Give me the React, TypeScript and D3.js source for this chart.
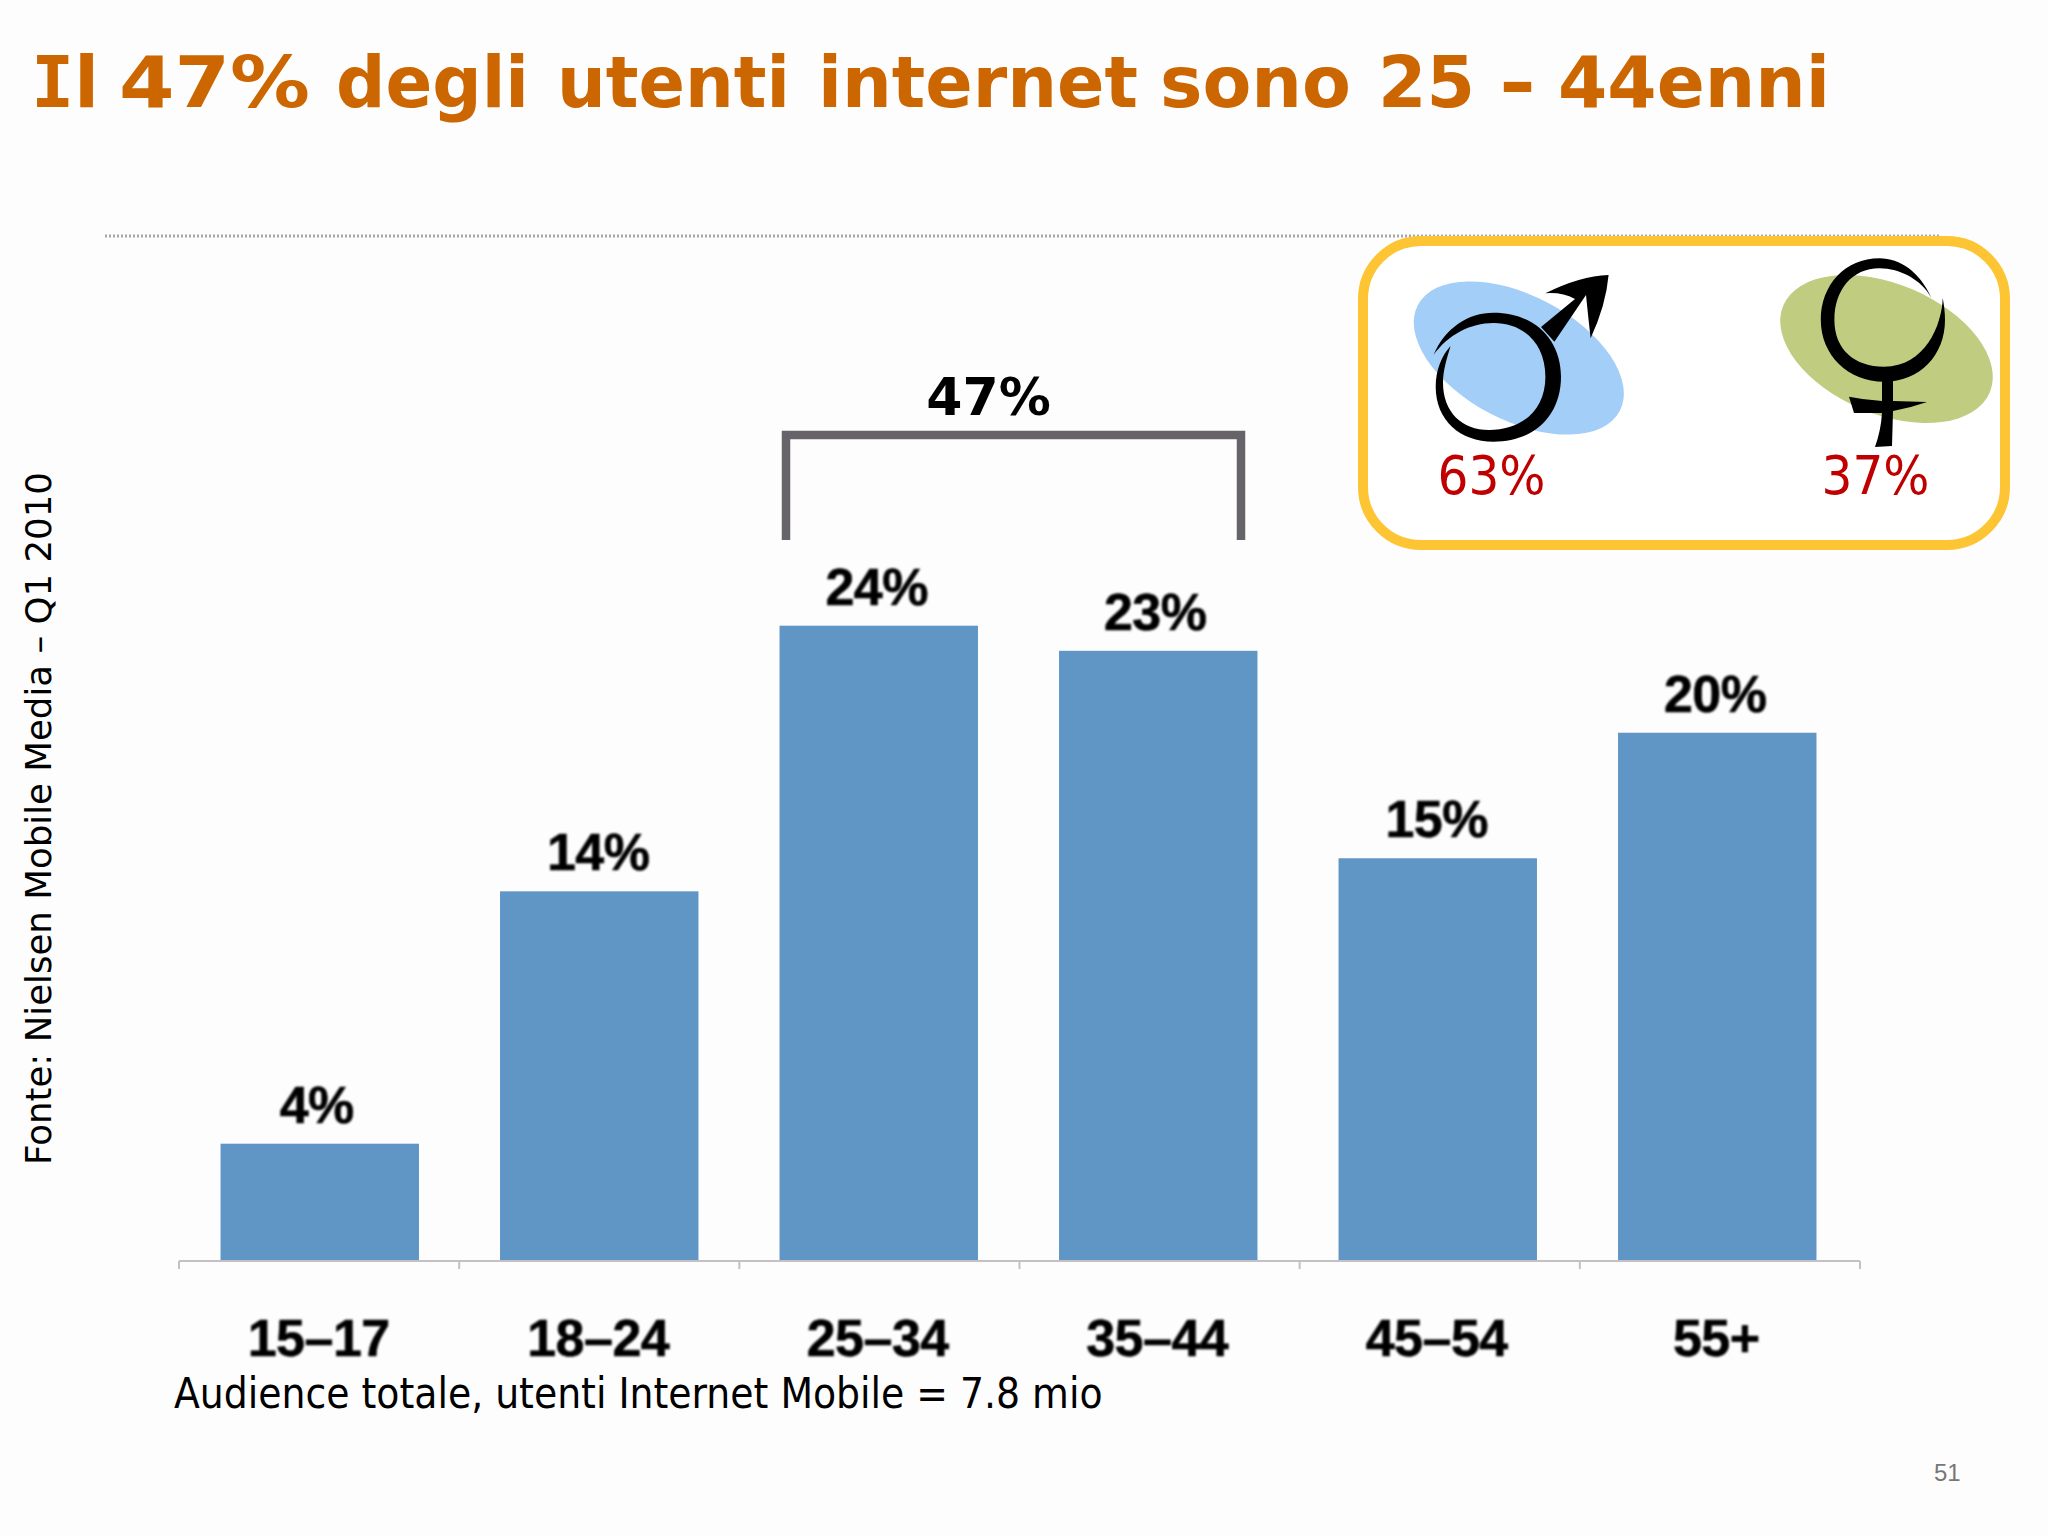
import React from "react";
import * as d3 from "d3";

const categories = ["15–17", "18–24", "25–34", "35–44", "45–54", "55+"];
const shares = [4.4, 13.95, 24, 23.05, 15.2, 19.95];
const shareLabels = ["4%", "14%", "24%", "23%", "15%", "20%"];
const labelNudge = [-3, -1, -2, -3, -1, -2];
const titleWords = ["47%", "degli", "utenti", "internet", "sono", "25", "-", "44enni"];
const titleX = [119, 336, 557, 818, 1160, 1378, 1499, 1558];
const titleLen = [191, 193, 233, 320, 191, 97, 37, 272];
const sourceText = "Fonte: Nielsen Mobile Media – Q1 2010";
const footText = "Audience totale, utenti Internet Mobile = 7.8 mio";
const bracketLabel = "47%";
const maleLabel = "63%";
const femaleLabel = "37%";

const W = 2048, H = 1536;
const axisX = d3.scaleBand<string>().domain(categories).range([179, 1860]);
const x = d3.scaleBand<string>().domain(categories).range([180, 1857]).paddingInner(0.29).paddingOuter(0.145);
const y = d3.scaleLinear().domain([0, 24]).range([1260, 625.7]);
const tickXs = [...categories.map(c => axisX(c) as number), 1860];

const arial = "'Liberation Sans', Arial, sans-serif";
const dejavu = "'DejaVu Sans', Verdana, sans-serif";
const cond = "'DejaVu Sans Condensed', 'DejaVu Sans', sans-serif";

const maleRing = "M1433.5,355 C1445,328 1468,312.7 1493.5,312.7 C1535,312.7 1561,340 1561,376.7 C1561,415 1535,441.7 1493.5,441.7 C1460,441.7 1435.7,420 1435.7,386.7 C1435.7,370 1442,355 1450.6,346 C1447,358 1443,370 1443,383 C1443,412 1462,430 1489,430 C1522,430 1545.4,410 1545.4,376.7 C1545.4,345 1525,323 1493.5,323 C1470,323 1448,335 1433.5,355 Z";
const maleArrow = "M1541,327 L1575,299 Q1562,292 1545.4,293.3 Q1580,276 1608.6,275 Q1606,305 1590.6,338.3 Q1588,315 1586,295 L1554.4,341.7 Z";
const femaleRing = "M1931.4,298 C1920,272 1900,258.3 1879.5,258.3 C1845,258.3 1820.8,285 1820.8,320 C1820.8,355 1848,381.7 1884,381.7 C1920,381.7 1945,355 1945,320 C1945,312 1944,305 1942.7,298 C1942,325 1925,366.7 1884,366.7 C1855,366.7 1834.4,350 1834.4,320 C1834.4,290 1852,268.3 1879.5,268.3 C1900,268.3 1922,280 1931.4,298 Z";
const femaleCross = "M1882,380 L1893,380 L1893,401 L1927,402 Q1910,408 1893,411 L1892,446 L1875,447 Q1881,430 1882,413 L1854,413 L1849,396.7 Q1865,400 1882,401 Z";

export default function App() {
  return (
    <svg width={W} height={H} viewBox={`0 0 ${W} ${H}`} style={{ position: "absolute", left: 0, top: 0, background: "#fefdfe" }}>
      <defs>
        <filter id="soft" x="-10%" y="-10%" width="120%" height="120%"><feGaussianBlur stdDeviation="1.2" /></filter>
      </defs>
      <g fontFamily={dejavu} fontWeight={700} fontSize={72} fill="#cc6600">
        <text x={31} y={107}>
          <tspan fontFamily="'DejaVu Sans Mono', monospace">I</tspan>
          <tspan>l</tspan>
        </text>
        {titleWords.map((w, i) => (
          <text key={w} x={titleX[i]} y={107} textLength={titleLen[i]} lengthAdjust="spacingAndGlyphs">{w}</text>
        ))}
      </g>
      <line x1={105} x2={1940} y1={236} y2={236} stroke="#a8a8a8" strokeWidth={3} strokeDasharray="2 2" />
      <text transform="translate(51,1165) rotate(-90)" fontFamily={dejavu} fontSize={35.6} fill="#000">{sourceText}</text>

      {categories.map((c, i) => (
        <rect key={c} x={x(c)} y={y(shares[i])} width={x.bandwidth()} height={y(0) - y(shares[i])} fill="#6096c6" />
      ))}
      <line x1={179} x2={1860} y1={1261} y2={1261} stroke="#c4c0c4" strokeWidth={2} />
      {tickXs.map(t => <line key={t} x1={t} x2={t} y1={1261} y2={1269} stroke="#c4c0c4" strokeWidth={2} />)}
      <g filter="url(#soft)" fontFamily={arial} fontWeight={700} fontSize={52} textAnchor="middle" fill="#000" stroke="#000" strokeWidth={0.6}>
        {categories.map((c, i) => (
          <text key={c} x={(x(c) as number) + x.bandwidth() / 2} y={y(shares[i]) - 21} dx={labelNudge[i]} letterSpacing={-0.5}>{shareLabels[i]}</text>
        ))}
        {categories.map(c => (
          <text key={c} x={(x(c) as number) + x.bandwidth() / 2 - 1} y={1356} letterSpacing={-0.5}>{c}</text>
        ))}
      </g>
      <text x={174} y={1408} fontFamily={cond} fontSize={42} fill="#000">{footText}</text>

      <path d="M786,540 V435 H1241 V540" fill="none" stroke="#666468" strokeWidth={8.5} />
      <text x={988.5} y={415} textAnchor="middle" fontFamily={dejavu} fontWeight={700} fontSize={52} fill="#000">{bracketLabel}</text>

      <rect x={1363} y={241} width={642} height={304} rx={58} fill="#fff" stroke="#fdc533" strokeWidth={10} />
      <ellipse cx={1518.8} cy={358} rx={114} ry={62.5} fill="#a3cef8" transform="rotate(27.7 1518.8 358)" />
      <ellipse cx={1886.5} cy={349} rx={112} ry={65} fill="#c0cd80" transform="rotate(22.8 1886.5 349)" />
      <path d={maleRing} fill="#000" />
      <path d={maleArrow} fill="#000" />
      <path d={femaleRing} fill="#000" />
      <path d={femaleCross} fill="#000" />
      <text x={1491.5} y={494} textAnchor="middle" fontFamily={cond} fontSize={54} fill="#c00000">{maleLabel}</text>
      <text x={1875.5} y={494} textAnchor="middle" fontFamily={cond} fontSize={54} fill="#c00000">{femaleLabel}</text>
      <text x={1934} y={1481} fontFamily={arial} fontSize={24} fill="#777">51</text>
    </svg>
  );
}
